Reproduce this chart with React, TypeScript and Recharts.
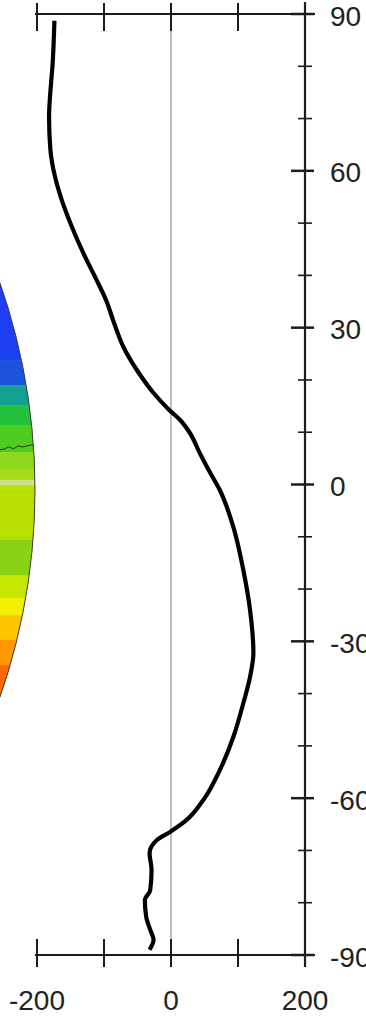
import { ComposedChart, Line, XAxis, YAxis, ReferenceLine, ReferenceArea } from 'recharts'

// zonal-mean profile, latitude (deg) vs value
const latitudes = [
  88.7, 79.9, 76.8, 70.3, 64.0, 58.8, 54.4, 49.3, 44.3, 39.1, 35.3, 30.9, 26.3, 21.9, 17.5, 14.3, 12.3, 9.9, 6.0, 2.8,
  -1.1, -8.1, -16.4, -24.0, -32.2, -36.8, -41.8, -48.3, -54.6, -60.4, -64.2, -66.5, -68.0, -70.5, -73.7, -77.6, -79.5,
  -82.7, -85.2, -87.1, -89.0,
]
const zonalValues = [
  -174, -177, -179, -182, -180, -173, -163, -148, -131, -111, -97, -85, -71, -51, -26, -3, 14, 28, 43, 56,
  73, 93, 108, 118, 123, 118, 108, 93, 73, 48, 23, -2, -21, -32, -29, -31, -39,
  -37, -31, -26, -32,
]

const xTicks = [-200, -100, 0, 100, 200]
const xTickLabels = [-200, 0, 200]
const latTicks = [90, 60, 30, 0, -30, -60, -90]
const latMinorTicks = [80, 70, 50, 40, 20, 10, -10, -20, -40, -50, -70, -80]

// neighbouring globe panel: colour bands by latitude
const globeBandEdges = [45, 23.8, 19.0, 15.2, 11.4, 6.2, 2.8, 0.9, -0.2, -10.6, -17.3, -21.7, -25.0, -29.7, -34.5, -45]
const globeBandColors = [
  '#1f40f2', '#1a52dc', '#14a090', '#24c23c', '#4fcc22', '#8ed81c', '#a8dc1a', '#cfe08a',
  '#b6e000', '#88d414', '#c6e800', '#f2f000', '#ffc400', '#ff9a00', '#ff6a00',
]
const contourLat = 7.0

const profileData = latitudes.map((lat, i) => ({ lat, value: zonalValues[i] }))

const AXIS = '#1c1c1c'
const FONT = '"Liberation Sans", Arial, Helvetica, sans-serif'
const GLOBE = { cx: -595, cy: 490, r: 630 }

function BottomTick({ x, y, payload }: any) {
  if (!xTickLabels.includes(payload.value)) return <g />
  return (
    <text x={x} y={y} dy={55} textAnchor="middle" fontSize={28} fontFamily={FONT} fill="#222">
      {payload.value}
    </text>
  )
}

function RightTick({ x, y, payload }: any) {
  return (
    <text x={x} y={y} dx={25} dy={11.5} textAnchor="start" fontSize={28} fontFamily={FONT} fill="#222">
      {payload.value}
    </text>
  )
}

// x ticks cross both the top and the bottom frame lines
const xTickMark = (p: any) => {
  const top = Math.min(p.y1, p.y2)
  const bottom = Math.max(p.y1, p.y2)
  return (
    <g stroke={AXIS} strokeWidth={2}>
      <line x1={p.x1} x2={p.x1} y1={top - 11} y2={top + 17} />
      <line x1={p.x1} x2={p.x1} y1={bottom - 16} y2={bottom + 12} />
    </g>
  )
}

const latTickMark = (len: number, out: number, width: number) => (p: any) => {
  const right = Math.max(p.x1, p.x2)
  return <line x1={right - len} x2={right + out} y1={p.y1} y2={p.y1} stroke={AXIS} strokeWidth={width} />
}

const hFrame = (p: any) => {
  const left = Math.min(p.x1, p.x2)
  const right = Math.max(p.x1, p.x2)
  return <line x1={left - 2} x2={right + 10} y1={p.y1} y2={p.y1} stroke={AXIS} strokeWidth={2.2} />
}

const vFrame = (p: any) => {
  const top = Math.min(p.y1, p.y2)
  const bottom = Math.max(p.y1, p.y2)
  return <line x1={p.x1} x2={p.x1} y1={top - 12} y2={bottom + 12} stroke={AXIS} strokeWidth={2.2} />
}

const globeBand = (color: string, i: number) => (p: any) => (
  <g>
    <defs>
      <clipPath id={`globe-${i}`}>
        <circle cx={GLOBE.cx} cy={GLOBE.cy} r={GLOBE.r} />
      </clipPath>
    </defs>
    <rect x={0} y={p.y} width={p.x} height={p.height + 0.5} fill={color} clipPath={`url(#globe-${i})`} />
  </g>
)

// globe rim plus the one contour line crossing it
const globeRim = (p: any) => {
  const top = globeBandEdges[0]
  const span = top - globeBandEdges[globeBandEdges.length - 1]
  const cy = p.y + ((top - contourLat) / span) * p.height
  const wiggle = [2, 1, -1, 1, -2, -1, -2, -3, -2]
  const d = wiggle.map((w, k) => `${k === 0 ? 'M' : 'L'}${k * 4.5},${cy + w}`).join(' ')
  return (
    <g>
      <defs>
        <clipPath id="globe-rim">
          <circle cx={GLOBE.cx} cy={GLOBE.cy} r={GLOBE.r} />
        </clipPath>
      </defs>
      <path d={d} fill="none" stroke="#2a3a1a" strokeWidth={1} clipPath="url(#globe-rim)" />
      <circle cx={GLOBE.cx} cy={GLOBE.cy} r={GLOBE.r} fill="none" stroke="#3a3a3a" strokeWidth={1} />
    </g>
  )
}

export default function App() {
  return (
    <div style={{ width: 366, height: 1016, background: '#fff' }}>
      <style>{'body{margin:0}'}</style>
      <ComposedChart
        width={366}
        height={1016}
        data={profileData}
        layout="vertical"
        margin={{ top: 14, right: 0, bottom: 0, left: 37 }}
      >
        <XAxis
          type="number"
          domain={[-200, 200]}
          ticks={xTicks}
          height={61}
          axisLine={false}
          tickLine={false}
          tickSize={0}
          tickMargin={0}
          tick={<BottomTick />}
          interval={0}
        />
        <YAxis
          type="number"
          dataKey="lat"
          orientation="right"
          domain={[-90, 90]}
          reversed
          ticks={latTicks}
          width={61}
          axisLine={false}
          tickLine={false}
          tickSize={0}
          tickMargin={0}
          tick={<RightTick />}
          interval={0}
        />

        {globeBandColors.map((c, i) => (
          <ReferenceArea
            key={`band-${i}`}
            y1={globeBandEdges[i]}
            y2={globeBandEdges[i + 1]}
            shape={globeBand(c, i)}
          />
        ))}
        <ReferenceArea y1={globeBandEdges[0]} y2={globeBandEdges[globeBandEdges.length - 1]} shape={globeRim} />

        <ReferenceLine x={0} stroke="#a8a8a8" strokeWidth={1.5} />

        <ReferenceLine y={90} shape={hFrame} />
        <ReferenceLine y={-90} shape={hFrame} />
        <ReferenceLine x={200} shape={vFrame} />
        {xTicks.map((v) => (
          <ReferenceLine key={`xt-${v}`} x={v} shape={xTickMark} />
        ))}
        {latTicks.map((v) => (
          <ReferenceLine key={`yt-${v}`} y={v} shape={latTickMark(14, 9, 2.5)} />
        ))}
        {latMinorTicks.map((v) => (
          <ReferenceLine key={`ym-${v}`} y={v} shape={latTickMark(7, 7, 1.6)} />
        ))}

        <Line
          type="monotone"
          dataKey="value"
          stroke="#000"
          strokeWidth={4.2}
          dot={false}
          isAnimationActive={false}
        />
      </ComposedChart>
    </div>
  )
}
